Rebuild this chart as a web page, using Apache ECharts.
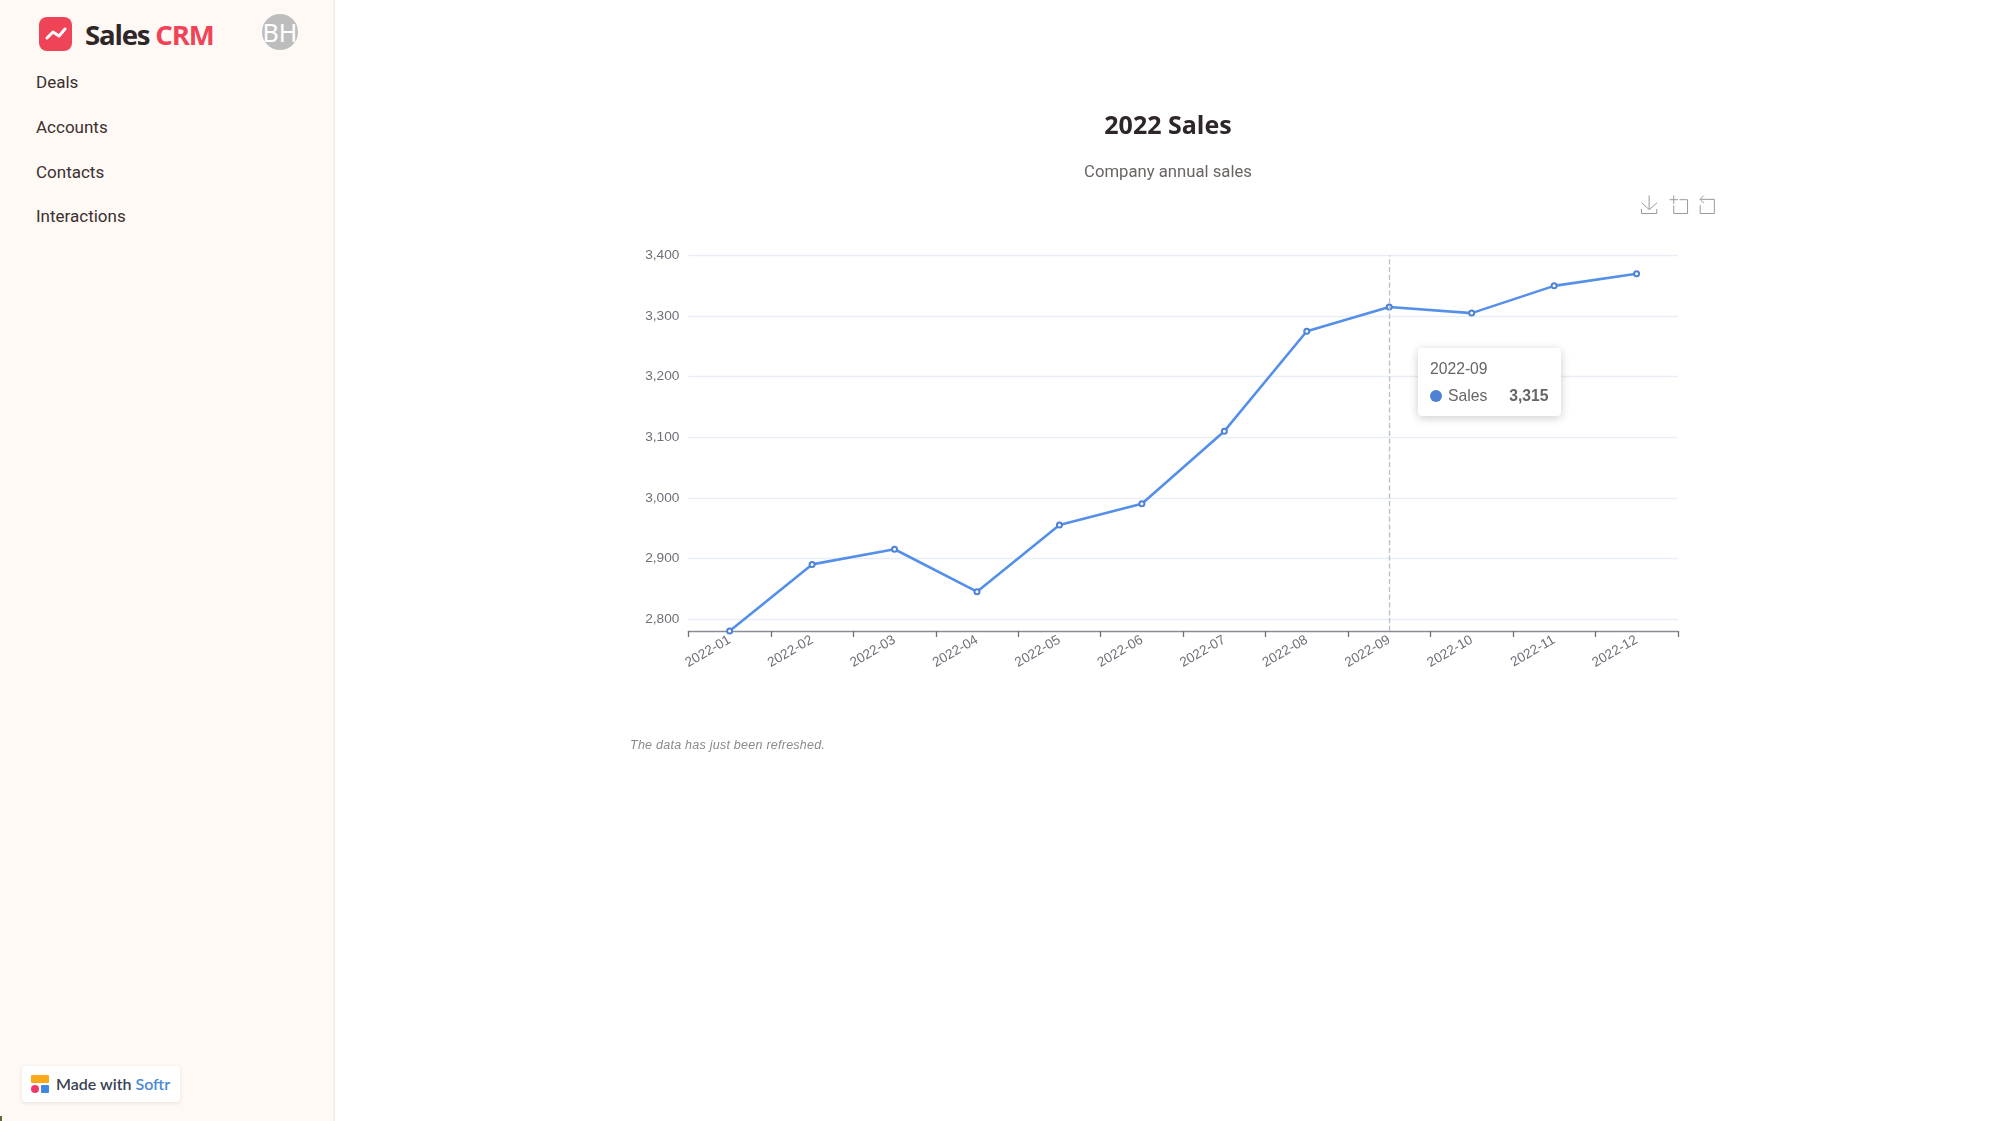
<!DOCTYPE html>
<html><head><meta charset="utf-8"><title>2022 Sales</title>
<script src="https://cdn.jsdelivr.net/npm/echarts@6/dist/echarts.min.js"></script>
<style>
html,body{margin:0;padding:0;width:1999px;height:1121px;background:#fff;overflow:hidden}
#side{position:absolute;left:0;top:0;width:335px;height:1121px;background:#fff9f5;border-right:2px solid #f3efec;box-sizing:border-box}
#chart{position:absolute;left:0;top:0;width:1999px;height:1121px}
.nav{position:absolute;left:36px;font:400 17px Roboto,sans-serif;color:#3a3030;line-height:24px}
#logo{position:absolute;left:39px;top:17px;width:33px;height:34px;background:#ef4458;border-radius:8px}
#brand{position:absolute;left:85px;top:14px;font:700 27.6px/40px "Open Sans",sans-serif;letter-spacing:-1.2px;color:#2f2727;white-space:nowrap}
#brand span{color:#ef4458}
#avatar{position:absolute;left:262px;top:14px;width:36px;height:36px;border-radius:50%;background:#bdbdbd;color:#fff;font:400 25px/36px "Noto Sans",sans-serif;text-align:center}
#badge{position:absolute;left:22px;top:1066px;width:158px;height:36px;background:#fff;border-radius:4px;box-shadow:0 1px 4px rgba(0,0,0,.1)}
#badge b{position:absolute;left:34px;top:0;font:600 16px/35px Lato,sans-serif;color:#3a4252;white-space:nowrap}
#badge b i{font-style:normal;color:#4a8ad8}
#note{position:absolute;left:630px;top:737px;font:italic 400 12.5px/16px "Liberation Sans",sans-serif;color:#8a8a8a;letter-spacing:.25px;white-space:nowrap}
#corner{position:absolute;left:0;top:1116px;width:2px;height:5px;background:#5d6b35}
</style></head><body>
<div id="side">
  <div id="logo"><svg width="33" height="34" viewBox="0 0 33 34"><polyline points="8,21 14,15 20,19 26,12" fill="none" stroke="#fff" stroke-width="3" stroke-linecap="round" stroke-linejoin="round"/></svg></div>
  <div id="brand">Sales <span>CRM</span></div>
  <div id="avatar">BH</div>
  <div class="nav" style="top:70px">Deals</div>
  <div class="nav" style="top:115px">Accounts</div>
  <div class="nav" style="top:160px">Contacts</div>
  <div class="nav" style="top:204px">Interactions</div>
  <div id="badge">
    <svg style="position:absolute;left:9px;top:9px" width="18" height="19" viewBox="0 0 18 19"><rect width="18" height="8" rx="1" fill="#fba919"/><circle cx="4" cy="14" r="4" fill="#ee3a6a"/><rect x="10" y="10" width="8" height="8" rx="1" fill="#3f8ae0"/></svg>
    <b>Made with <i>Softr</i></b>
  </div>
</div>
<div id="corner"></div>
<div id="chart"></div>
<div id="note">The data has just been refreshed.</div>
<script>
const categories = ['2022-01','2022-02','2022-03','2022-04','2022-05','2022-06','2022-07','2022-08','2022-09','2022-10','2022-11','2022-12'];
const salesValues = [2780,2890,2915,2845,2955,2990,3110,3275,3315,3305,3350,3370];
const yTickValues = [2800,2900,3000,3100,3200,3300,3400];
const seriesName = 'Sales';
const titleText = '2022 Sales';
const subtitleText = 'Company annual sales';
const lineColor = '#4d82d4';

const chart = echarts.init(document.getElementById('chart'), null, {renderer:'canvas'});
chart.setOption({
  animation:false,
  title:{text:titleText,subtext:subtitleText,left:1163,top:109,textAlign:'center',itemGap:25,
    textStyle:{fontFamily:'Open Sans',fontSize:25,fontWeight:700,color:'#2f2727'},
    subtextStyle:{fontFamily:'Roboto',fontSize:16.7,color:'#6b6462'}},
  toolbox:{left:1624,top:178,itemSize:18,itemGap:7.5,
    iconStyle:{borderColor:'#999'},
    feature:{saveAsImage:{title:''},dataZoom:{yAxisIndex:'none',title:{zoom:'',back:''}}}},
  tooltip:{trigger:'axis',alwaysShowContent:true,
    position:function(){return [1418,348];},
    padding:[10,12],borderWidth:0,backgroundColor:'#fff',
    extraCssText:'box-shadow:0 2px 10px rgba(0,0,0,.2);border-radius:4px;',
    textStyle:{fontFamily:'Liberation Sans',fontSize:15.7,color:'#666'},
    formatter:function(params){
      const p = params[0];
      return '<div style="line-height:20px;margin-top:1px">'+p.name+'</div>'+
        '<div style="line-height:20px;margin-top:7px;white-space:nowrap">'+
        '<span style="display:inline-block;width:12px;height:12px;border-radius:50%;background:'+lineColor+';margin-right:6px;vertical-align:-1px"></span>'+
        p.seriesName+'<b style="margin-left:22px;font-weight:900">'+p.value.toLocaleString('en-US')+'</b></div>';
    },
    axisPointer:{type:'line',lineStyle:{type:'dashed',color:'#b9bec9',width:1.3}}},
  grid:{left:688.4,top:255.6,width:989.4,height:375.4},
  xAxis:{type:'category',data:categories,
    axisLine:{lineStyle:{color:'#8a8c94',width:1.3}},
    axisTick:{show:true,length:6,lineStyle:{color:'#6e7079',width:1.3}},
    axisLabel:{rotate:30,interval:0,fontFamily:'Liberation Sans',fontSize:13.6,color:'#6e7079',margin:8}},
  yAxis:{type:'value',min:2780,max:3400,
    axisLine:{show:false},
    axisTick:{show:false,customValues:yTickValues},
    axisLabel:{customValues:yTickValues,fontFamily:'Liberation Sans',fontSize:13.7,color:'#6e7079',margin:9},
    splitLine:{lineStyle:{color:'#e9edf5',width:1.3}}},
  series:[{name:seriesName,type:'line',data:salesValues,symbol:'emptyCircle',symbolSize:5,showSymbol:true,
    lineStyle:{color:lineColor,width:2.6},
    itemStyle:{color:lineColor,borderWidth:1.6},
    emphasis:{scale:false,lineStyle:{width:2.6}}}]
});
chart.dispatchAction({type:'showTip',seriesIndex:0,dataIndex:8});
</script>
</body></html>
